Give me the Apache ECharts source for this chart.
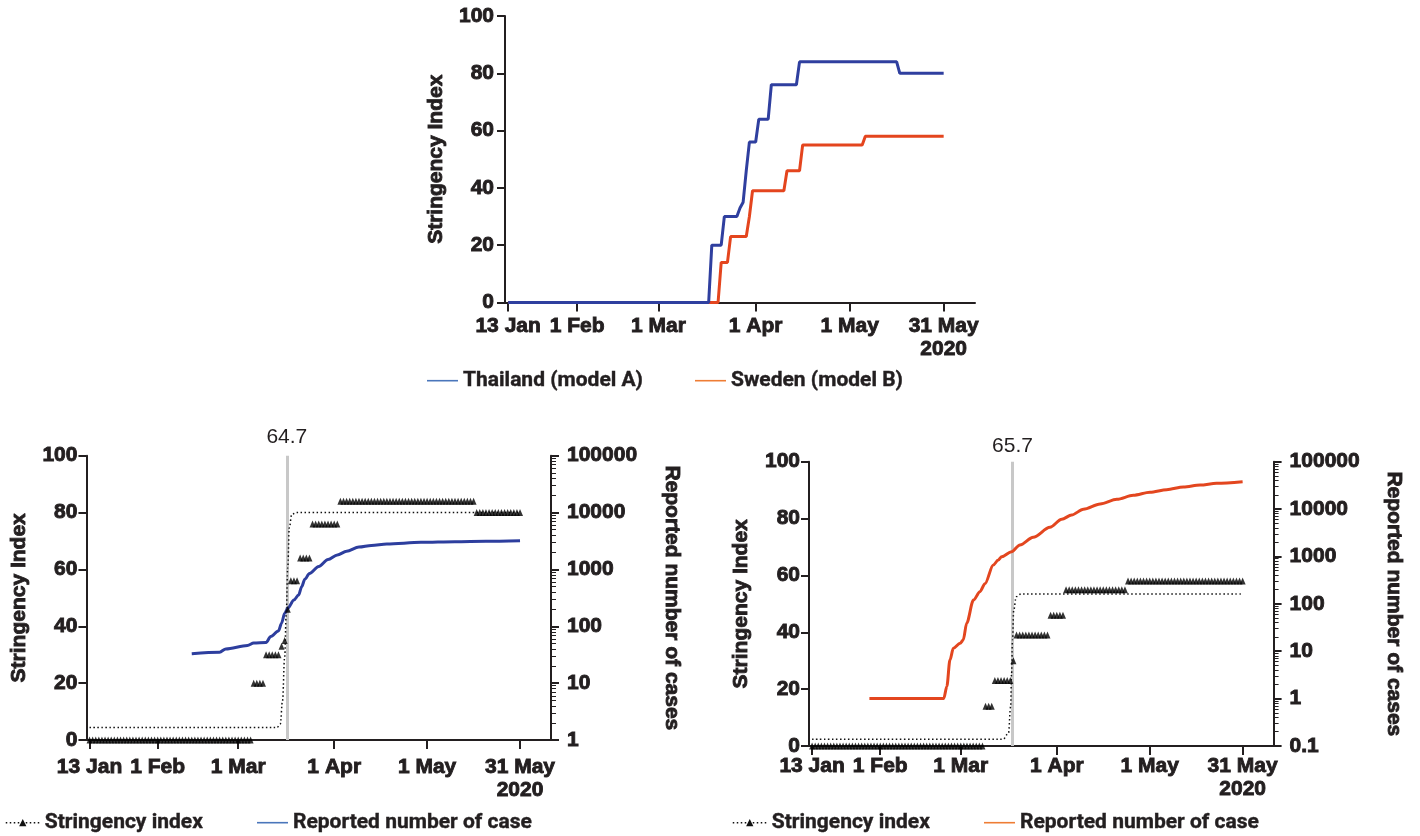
<!DOCTYPE html>
<html>
<head>
<meta charset="utf-8">
<script src="https://cdn.jsdelivr.net/npm/echarts@6/dist/echarts.min.js"></script>
<style>
  html, body { margin: 0; padding: 0; background: #fff; }
  #topChart { position: absolute; left: 0; top: 0; width: 1420px; height: 410px; }
  #thaiChart { position: absolute; left: 0; top: 410px; width: 710px; height: 426px; }
  #sweChart { position: absolute; left: 710px; top: 410px; width: 710px; height: 426px; }
</style>
</head>
<body>
<div id="topChart"></div>
<div id="thaiChart"></div>
<div id="sweChart"></div>
<script>
// day numbers: 13 Jan 2020 = day 1
const tickDays = [1, 23, 49, 80, 110, 140];
const tickLabels = ['13 Jan', '1 Feb', '1 Mar', '1 Apr', '1 May', '31 May\n2020'];

// top chart: stringency index, [day, value] where the line turns
const thailandIndex = [[1, 0], [65, 0], [66, 20], [69, 20], [70, 30], [74, 30], [75, 33], [76, 35], [77, 46], [78, 56], [80, 56],
  [81, 64], [84, 64], [85, 76], [93, 76], [94, 84], [125, 84], [126, 80], [140, 80]];
const swedenIndex = [[1, 0], [68, 0], [69, 14], [71, 14], [72, 23], [77, 23], [78, 30], [79, 39], [89, 39], [90, 46], [94, 46],
  [95, 55], [114, 55], [115, 58], [140, 58]];

// bottom charts: daily index as runs [value, number of days] from day 1
const thaiIndexRuns = [[0, 53], [20, 4], [30, 5], [33, 1], [35, 1], [46, 1], [56, 3], [64, 4], [76, 9], [84, 44], [80, 15]];
const sweIndexRuns = [[0, 56], [14, 3], [23, 6], [30, 1], [39, 11], [46, 5], [55, 20], [58, 38]];

// fitted stringency curves (dotted), [day, value]
const thaiFit = [[1, 4.4], [61.5, 4.4], [62.6, 5.6], [63.3, 13.8], [64, 29], [64.5, 44], [65, 60.7], [65.5, 74.7], [66.3, 79.4], [67.9, 80], [140, 80]];
const sweFit = [[1, 2.4], [62.7, 2.4], [64.4, 4.5], [65.1, 13.8], [65.4, 25.5], [65.7, 37.3], [66.1, 47.8], [66.9, 52.5], [68.5, 53.5], [140, 53.5]];
const thaiMid = 64.7;
const sweMid = 65.7;

// reported number of cases (log axis), [day, cases]
const thaiCases = [[34, 33], [43, 35], [45, 40], [52, 46], [54, 51], [58, 52], [59.5, 66], [62, 83], [63, 113], [64, 169], [65, 207],
  [67, 290], [68.5, 355], [69.5, 497], [70.5, 669], [72, 851], [75, 1130], [78, 1500], [81, 1800], [84, 2080], [88, 2470],
  [92, 2640], [97, 2800], [108, 2990], [119, 3070], [129, 3120], [140, 3200]];
const sweCases = [[19.5, 1], [43.5, 1], [44.5, 1.8], [45.5, 6.5], [46.6, 11.5], [48.8, 14.7], [49.8, 17.3], [50.9, 39], [53.1, 120],
  [55.2, 181], [56.8, 265], [59.5, 660], [61.1, 843], [62.2, 990], [65.4, 1260], [68.1, 1747], [72.4, 2540], [77.8, 4130],
  [81.6, 6100], [84.8, 7520], [88.6, 9900], [94, 12800], [99.4, 16100], [104.7, 19500], [110.1, 22600], [115.5, 25700],
  [120.9, 29300], [126.3, 32200], [131.6, 35000], [140, 37800]];

const font = "'Liberation Sans', Arial, sans-serif";
const legendFont = "Roboto, 'Liberation Sans', sans-serif";
const ink = '#231f20';

function expandRuns(runs) {
  const out = [];
  let day = 1;
  runs.forEach(([v, n]) => {
    for (let i = 0; i < n; i++) out.push([day++, v]);
  });
  return out;
}

// bold text, stroked a little to get the heavy look of the original
function tickText(size) {
  return { color: ink, fontFamily: font, fontWeight: 'bold', fontSize: size,
    textBorderColor: ink, textBorderWidth: 0.9 };
}

function dayAxis(margin) {
  return {
    type: 'value', min: 0, max: 150,
    axisLine: { lineStyle: { color: ink, width: 2 } },
    axisTick: { show: true, customValues: tickDays, length: 9, lineStyle: { color: ink, width: 2 } },
    axisLabel: Object.assign(tickText(21), {
      customValues: tickDays, margin: margin, lineHeight: 23,
      formatter: v => tickLabels[tickDays.indexOf(v)]
    }),
    splitLine: { show: false }
  };
}

function indexAxis(margin, nameGap) {
  return {
    type: 'value', min: 0, max: 100, interval: 20,
    name: 'Stringency Index', nameLocation: 'middle', nameGap: nameGap,
    nameTextStyle: tickText(21),
    axisLine: { show: true, lineStyle: { color: ink, width: 2 } },
    axisTick: { show: true, length: 8, lineStyle: { color: ink, width: 2 } },
    axisLabel: Object.assign(tickText(21), { margin: margin }),
    splitLine: { show: false }
  };
}

function casesAxis(min) {
  return {
    type: 'log', logBase: 10, min: min, max: 100000, position: 'right', splitNumber: 6,
    name: 'Reported number of cases', nameLocation: 'middle', nameRotate: -90, nameGap: 110,
    nameTextStyle: tickText(21),
    axisLine: { show: true, lineStyle: { color: ink, width: 2 } },
    axisTick: { show: true, length: 8, lineStyle: { color: ink, width: 2 } },
    minorTick: { show: true, splitNumber: 9, length: 5, lineStyle: { color: ink, width: 1 } },
    axisLabel: Object.assign(tickText(21), {
      margin: 16, formatter: v => String(Number(v.toPrecision(6)))
    }),
    splitLine: { show: false }
  };
}

const legendText = { fontFamily: legendFont, fontWeight: 'bold', fontSize: 21, color: ink,
  textBorderColor: ink, textBorderWidth: 0.4 };

// plain thin line swatch
function lineLegend(left, top, name, color) {
  return {
    left: left, top: top, padding: 0, itemWidth: 31, itemHeight: 1.6, itemGap: 0,
    data: [{ name: name, icon: 'rect', itemStyle: { color: color } }],
    textStyle: legendText
  };
}

// dotted line with a triangle, taken from the series
function markerLegend(left, top, name) {
  return {
    left: left, top: top, padding: 0, itemWidth: 34, itemHeight: 9, itemGap: 0,
    data: [{ name: name, lineStyle: { color: '#111', width: 1.5 } }],
    textStyle: legendText
  };
}

// top chart
const topChart = echarts.init(document.getElementById('topChart'));
topChart.setOption({
  animation: false,
  grid: { left: 505, top: 16, width: 470, height: 286.5 },
  xAxis: dayAxis(12),
  yAxis: indexAxis(11, 58),
  legend: [
    lineLegend(427, 370, 'Thailand (model A)', '#4a76bb'),
    lineLegend(695, 370, 'Sweden (model B)', '#ee7d35')
  ],
  series: [
    { name: 'Thailand (model A)', type: 'line', data: thailandIndex, symbol: 'none', z: 3,
      lineStyle: { color: '#2f3f9f', width: 3 }, itemStyle: { color: '#2f3f9f' } },
    { name: 'Sweden (model B)', type: 'line', data: swedenIndex, symbol: 'none', z: 2,
      lineStyle: { color: '#e4451e', width: 3 }, itemStyle: { color: '#e4451e' } }
  ]
});

function bottomOption(cfg) {
  return {
    animation: false,
    grid: cfg.grid,
    xAxis: dayAxis(cfg.xMargin),
    yAxis: [indexAxis(9, 57), casesAxis(cfg.caseMin)],
    legend: [
      markerLegend(cfg.legendLeft[0], 402, 'Stringency index'),
      lineLegend(cfg.legendLeft[1], 402, 'Reported number of case', cfg.legendColor)
    ],
    series: [
      { name: 'Stringency index', type: 'line', data: cfg.fit, smooth: 0.4, smoothMonotone: 'x',
        symbol: 'triangle', symbolSize: 7, showSymbol: false, z: 2,
        lineStyle: { color: '#111', width: 1.5, type: [1.5, 2.5] }, itemStyle: { color: '#111' },
        markLine: {
          silent: true, symbol: 'none', z: 1,
          lineStyle: { color: '#c8c8c8', width: 3, type: 'solid' },
          label: { show: true, position: 'end', distance: cfg.midGap, formatter: String(cfg.mid), color: ink,
            fontFamily: font, fontSize: 21 },
          data: [{ xAxis: cfg.mid }]
        } },
      { name: 'index points', type: 'scatter', data: expandRuns(cfg.runs), symbol: 'triangle', symbolSize: [6, 7], z: 4,
        itemStyle: { color: '#000' } },
      { name: 'Reported number of case', type: 'line', yAxisIndex: 1, data: cfg.cases, symbol: 'none',
        smooth: 0.3, smoothMonotone: 'x', z: 3,
        lineStyle: { color: cfg.color, width: 3 }, itemStyle: { color: cfg.color } }
    ]
  };
}

const thaiChart = echarts.init(document.getElementById('thaiChart'));
thaiChart.setOption(bottomOption({
  grid: { left: 83, top: 45.7, width: 468, height: 284.3 },
  xMargin: 16, caseMin: 1, fit: thaiFit, mid: thaiMid, midGap: 8, runs: thaiIndexRuns, cases: thaiCases,
  color: '#2d3e9e', legendColor: '#4a76bb', legendLeft: [5, 257]
}));

const sweChart = echarts.init(document.getElementById('sweChart'));
sweChart.setOption(bottomOption({
  grid: { left: 99, top: 51.7, width: 464.6, height: 284.3 },
  xMargin: 9, caseMin: 0.1, fit: sweFit, mid: sweMid, midGap: 5, runs: sweIndexRuns, cases: sweCases,
  color: '#e3461f', legendColor: '#ee7d35', legendLeft: [22, 274]
}));
</script>
</body>
</html>
